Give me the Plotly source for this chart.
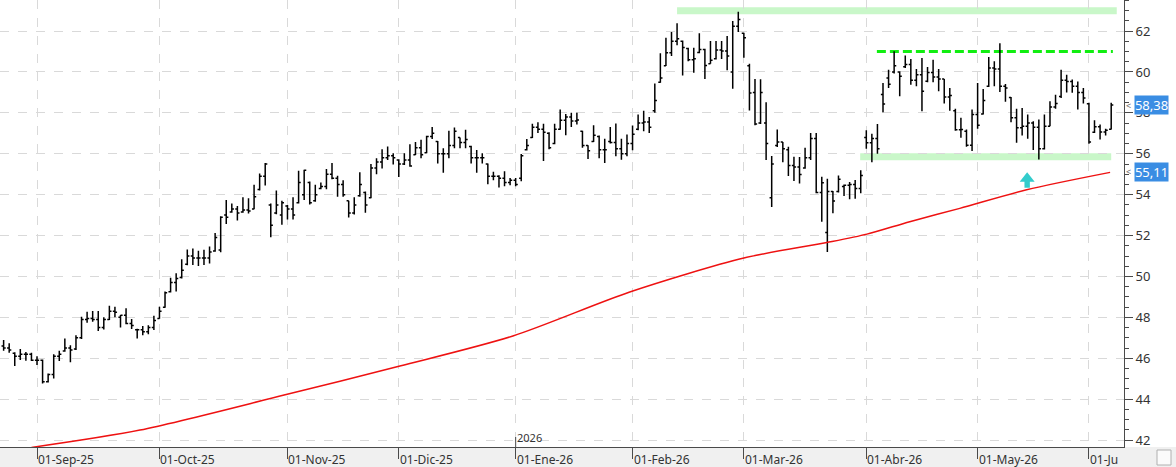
import plotly.graph_objects as go

# ---------------- data ----------------
bar_high = [46.89,46.73,46.29,46.45,46.30,46.27,46.10,45.94,45.26,46.19,
            46.37,46.97,46.64,47.13,48.03,48.28,48.31,48.31,48.00,48.57,
            48.52,48.11,48.44,47.92,47.44,47.58,47.62,48.08,48.52,49.26,
            49.94,50.16,50.84,51.32,51.37,51.26,51.31,51.47,52.13,52.94,
            53.74,53.57,53.44,53.87,53.82,54.48,55.03,55.55,53.57,54.20,
            53.70,53.49,53.87,55.17,55.22,54.64,54.48,54.60,55.26,55.55,
            54.93,54.70,53.70,53.87,55.10,54.15,55.50,55.78,56.22,56.35,
            56.02,55.73,56.02,56.47,56.57,56.68,56.88,57.31,56.63,56.27,
            57.13,57.29,56.80,57.18,56.39,56.19,56.02,55.53,55.12,54.95,
            55.15,54.82,54.82,55.99,56.72,57.47,57.54,57.47,57.05,57.47,
            58.16,57.95,58.00,58.00,57.13,56.42,57.40,56.89,56.73,57.31,
            57.48,56.73,56.94,57.38,57.92,58.11,57.80,59.44,60.91,61.67,
            61.95,62.38,61.54,61.18,61.18,61.89,61.13,61.51,61.51,61.51,
            61.76,62.49,62.95,61.92,60.40,59.66,59.64,58.52,55.89,57.19,
            56.57,56.34,55.85,55.84,56.29,57.02,57.02,54.88,54.78,54.18,
            54.94,54.50,54.62,54.72,55.19,57.15,56.98,57.46,59.46,60.11,
            61.01,60.03,60.80,60.63,60.15,60.68,60.24,60.60,60.15,59.66,
            59.22,58.20,57.76,57.19,58.16,59.46,59.17,60.73,60.52,61.41,
            59.41,58.78,58.20,58.24,57.92,57.59,57.67,57.92,58.57,58.89,
            60.11,59.87,59.63,59.54,59.22,58.49,57.64,57.43,57.22,58.49]
bar_low = [46.37,46.27,45.62,45.91,45.88,45.86,45.67,44.77,44.82,45.01,
           45.86,46.32,45.80,46.40,46.94,47.74,47.79,47.33,47.41,47.87,
           48.00,47.51,47.66,47.43,46.97,47.12,47.17,47.38,47.93,48.47,
           49.21,49.26,49.90,50.55,50.56,50.51,50.56,50.63,51.21,51.18,
           52.56,53.11,52.74,53.11,53.08,53.29,54.20,54.45,51.92,53.04,
           52.53,52.78,52.78,53.57,53.74,53.52,53.65,54.26,54.26,54.76,
           53.90,53.90,52.88,53.03,53.90,53.12,53.82,55.00,55.28,55.70,
           55.48,54.87,55.45,55.37,55.94,55.78,56.02,56.72,55.53,55.07,
           55.78,56.27,56.27,56.27,55.53,55.07,55.53,54.51,54.71,54.35,
           54.41,54.46,54.41,54.66,56.16,56.77,57.01,55.65,56.22,56.47,
           57.18,56.90,57.31,57.43,56.29,55.75,56.58,55.78,55.55,56.50,
           55.88,55.71,55.88,56.17,57.15,57.10,57.02,58.00,59.47,60.29,
           60.78,61.31,59.83,60.53,59.96,60.91,59.66,60.40,60.61,60.64,
           60.09,59.18,61.95,60.69,58.12,57.40,57.45,55.69,53.40,56.33,
           55.59,54.91,54.67,54.55,55.27,55.69,54.07,52.67,51.20,53.09,
           54.10,53.93,53.77,53.80,54.07,56.24,55.59,56.00,58.03,59.22,
           59.92,58.81,60.20,59.38,59.30,58.08,59.50,59.50,59.06,58.46,
           58.11,57.12,56.78,56.34,56.13,57.22,57.92,59.27,59.30,59.02,
           58.54,57.54,56.54,56.89,56.73,56.18,55.72,56.21,57.35,58.20,
           58.73,59.00,58.98,58.16,58.46,56.49,57.02,56.70,56.89,57.19]
bar_close = [46.50,46.40,46.10,46.20,46.20,45.90,45.90,44.85,45.20,46.10,
             46.20,46.50,46.40,47.00,47.90,47.95,47.90,47.50,47.90,48.30,
             48.25,48.10,47.70,47.60,47.40,47.30,47.50,47.85,48.30,49.20,
             49.70,49.90,50.30,51.00,50.90,50.90,50.90,51.20,51.90,52.90,
             52.90,53.30,53.10,53.25,53.20,53.90,54.90,55.50,52.50,53.50,
             53.60,53.30,53.00,54.60,55.20,53.60,54.00,54.40,55.00,54.80,
             54.50,54.00,53.10,53.50,54.50,53.50,55.30,55.60,55.80,55.90,
             55.80,55.50,55.70,55.40,56.30,55.95,56.85,57.00,56.00,56.00,
             56.40,57.10,56.55,56.70,55.80,55.80,55.80,54.90,54.90,54.80,
             54.60,54.70,54.50,55.90,56.40,57.30,57.20,57.05,56.30,57.20,
             57.64,57.80,57.60,57.65,56.40,56.15,56.90,56.20,56.20,56.55,
             56.25,56.00,56.50,56.95,57.50,57.55,57.30,58.60,59.70,60.94,
             61.50,61.62,61.20,60.60,60.65,61.10,60.32,60.57,61.07,61.02,
             60.78,62.24,62.57,61.67,58.97,57.45,59.00,56.50,55.50,56.57,
             56.24,55.43,55.35,54.99,55.80,56.75,54.10,54.58,54.15,53.69,
             54.75,54.46,54.50,54.30,54.94,56.54,56.75,56.24,58.44,59.40,
             60.31,59.79,60.36,59.59,59.87,59.06,59.98,59.76,59.66,58.78,
             58.85,57.17,57.19,56.42,57.92,57.40,58.60,60.20,60.15,59.30,
             59.22,57.76,57.27,57.35,57.51,57.30,56.24,57.35,58.29,58.46,
             59.60,59.54,59.30,59.00,58.73,56.57,57.32,57.06,57.15,58.38]
bar_open = [46.60,46.50,46.25,46.10,46.20,46.20,45.90,45.90,44.85,45.20,
            46.10,46.35,46.50,46.45,47.00,47.90,47.95,47.90,47.50,47.90,
            48.30,48.00,48.10,47.70,47.40,47.40,47.30,47.50,47.95,48.50,
            49.25,49.70,49.95,50.60,51.00,50.90,50.90,50.90,51.25,51.30,
            53.00,53.15,53.30,53.15,53.25,53.30,54.25,54.90,53.50,53.10,
            53.00,53.45,53.30,53.60,54.00,54.60,53.70,54.30,54.40,55.00,
            54.80,54.50,53.70,53.10,53.95,54.10,53.85,55.30,55.60,55.80,
            55.90,55.70,55.50,55.70,55.95,56.30,56.05,56.85,56.60,56.00,
            56.00,56.40,56.80,56.55,56.35,55.80,55.80,55.50,54.90,54.90,
            54.80,54.60,54.70,54.80,56.20,56.80,57.30,57.20,57.00,56.50,
            57.20,57.64,57.80,57.60,57.10,56.40,56.60,56.85,56.20,56.60,
            56.55,56.25,56.00,56.50,57.20,57.50,57.55,58.10,59.50,60.30,
            60.94,61.50,61.50,61.15,60.60,60.95,61.10,60.40,60.65,61.07,
            61.02,60.00,62.24,61.90,60.30,59.00,57.50,57.50,53.85,56.40,
            56.57,56.20,55.43,55.35,55.30,55.80,56.75,54.10,52.15,54.15,
            54.15,54.40,54.46,54.50,54.30,56.80,56.54,56.75,58.90,59.70,
            60.00,60.00,60.25,60.36,59.59,59.87,59.55,59.98,59.76,59.66,
            58.78,58.10,57.17,57.10,56.42,57.92,57.95,59.30,60.20,60.15,
            59.30,58.75,57.76,57.27,57.35,57.51,57.30,56.24,57.35,58.29,
            58.80,59.60,59.54,59.30,59.00,58.45,57.05,57.32,57.06,57.20]
bar_index = list(range(len(bar_close)))

# 200-session moving average, read at sampled bar positions
ma_index = [5.0, 24.5, 50.4, 71.2, 91.5, 112.5, 133, 147.9,
            155.1, 162.8, 171.8, 183.8, 198.8]
ma_value = [41.64, 42.49, 44.20, 45.62, 47.09, 49.24, 50.90, 51.66,
            52.07, 52.68, 53.33, 54.24, 55.09]

# month ticks (bar index of first session of each month)
month_tick_index = [6, 28, 51, 71, 92, 113, 133, 155, 175, 195]
month_tick_label = ["01-Sep-25", "01-Oct-25", "01-Nov-25", "01-Dic-25", "01-Ene-26",
                    "01-Feb-26", "01-Mar-26", "01-Abr-26", "01-May-26", "01-Ju"]
year_tick_index = 92
year_label = "2026"

# drawn levels
resistance_top = {"level": 63.0, "start": 121.0, "end": 200.0}
support_band = {"level": 55.86, "start": 153.9, "end": 199.0}
range_top_dash = {"level": 61.0, "start": 156.9, "end": 199.3}
arrow_anchor = {"x": 183.9, "y": 54.63}

last_price = 58.38
last_ma = 55.11

# ---------------- figure ----------------
W, H = 1176, 467
ML, MR, MT, MB = 0, 52, 0, 20
PW, PH = W - ML - MR, H - MT - MB

FONT = "Segoe UI, Noto Sans, Open Sans, sans-serif"
AXC = "#4a4a4a"
GRID = "#d9d9d9"

fig = go.Figure()

fig.add_trace(go.Scatter(
    x=ma_index, y=ma_value, mode="lines",
    line=dict(color="#ee1111", width=1.5, shape="spline", smoothing=0.8),
    hoverinfo="skip", showlegend=False))

fig.add_trace(go.Ohlc(
    x=bar_index, open=bar_open, high=bar_high, low=bar_low, close=bar_close,
    increasing=dict(line=dict(color="black", width=1.5)),
    decreasing=dict(line=dict(color="black", width=1.5)),
    tickwidth=0.38, showlegend=False, hoverinfo="skip"))

shapes = []
# bottom grey band
shapes.append(dict(type="rect", xref="paper", yref="paper",
                   x0=0, x1=W / PW, y0=-MB / PH, y1=0,
                   fillcolor="#f0f0f0", line=dict(width=0), layer="below"))
# small icon box bottom-right
shapes.append(dict(type="rect", xref="paper", yref="paper",
                   x0=1157 / PW, x1=1171 / PW, y0=-18 / PH, y1=-3 / PH,
                   fillcolor="#fbfbfb", line=dict(color="#b0b0b0", width=1)))
# green levels
for lvl, col, wid, dash in [(resistance_top, "#c9f7c9", 7, "solid"),
                            (support_band, "#c9f7c9", 7, "solid"),
                            (range_top_dash, "#11ee11", 3, "9px,4px")]:
    shapes.append(dict(type="line", xref="x", yref="y",
                       x0=lvl["start"], x1=lvl["end"], y0=lvl["level"], y1=lvl["level"],
                       line=dict(color=col, width=wid, dash=dash), layer="below"))
# year separator tick
shapes.append(dict(type="line", xref="x", yref="paper",
                   x0=year_tick_index, x1=year_tick_index, y0=0, y1=10 / PH,
                   line=dict(color=AXC, width=1)))
# cyan arrow
shapes.append(dict(type="path", xsizemode="pixel", ysizemode="pixel",
                   xanchor=arrow_anchor["x"], yanchor=arrow_anchor["y"],
                   xref="x", yref="y",
                   path="M -7.5,0 L 0,9.5 L 7.5,0 L 2.7,0 L 2.7,-6 L -2.7,-6 L -2.7,0 Z",
                   fillcolor="#33cccc", line=dict(width=0)))

annotations = []
for ti, tl in zip(month_tick_index, month_tick_label):
    annotations.append(dict(x=ti, xref="x", y=0, yref="paper", text=tl,
                            xanchor="left", yanchor="top", xshift=-1, yshift=-2,
                            showarrow=False, font=dict(family=FONT, size=12, color="#333")))
annotations.append(dict(x=year_tick_index, xref="x", y=0, yref="paper", text=year_label,
                        xanchor="left", yanchor="bottom", xshift=-1, yshift=0,
                        showarrow=False, font=dict(family=FONT, size=11, color="#333")))
for val in [last_price, last_ma]:
    annotations.append(dict(x=1134 / PW, xref="paper", y=val, yref="y",
                            text=f"{val:.2f}".replace(".", ","),
                            xanchor="left", yanchor="middle", showarrow=False,
                            bgcolor="#3a8de3", width=33, height=18, borderpad=0,
                            font=dict(family=FONT, size=13, color="white")))
    annotations.append(dict(x=1124 / PW, xref="paper", y=val, yref="y", text="&lt;",
                            xanchor="left", yanchor="middle", showarrow=False,
                            font=dict(family=FONT, size=9, color="#666")))

fig.update_layout(
    width=W, height=H,
    margin=dict(l=ML, r=MR, t=MT, b=MB, pad=0),
    paper_bgcolor="white", plot_bgcolor="white",
    showlegend=False,
    shapes=shapes, annotations=annotations,
    xaxis=dict(range=[-0.65, 201.3], tickvals=month_tick_index, showticklabels=False,
               ticks="outside", ticklen=11, tickcolor=AXC, tickwidth=1,
               showline=True, linecolor=AXC, linewidth=1,
               showgrid=True, gridcolor=GRID, griddash="dash", gridwidth=1,
               zeroline=False, rangeslider=dict(visible=False), fixedrange=True),
    yaxis=dict(side="right", range=[41.66, 63.52], tick0=0, dtick=2,
               ticks="outside", ticklen=8, tickcolor=AXC, tickwidth=1,
               showline=True, linecolor=AXC, linewidth=1,
               showgrid=True, gridcolor=GRID, griddash="dash", gridwidth=1,
               zeroline=False,
               minor=dict(dtick=0.5, ticks="outside", ticklen=4, tickcolor=AXC, showgrid=False),
               tickfont=dict(family=FONT, size=13, color="#333")),
)

fig.write_html("out.html")
